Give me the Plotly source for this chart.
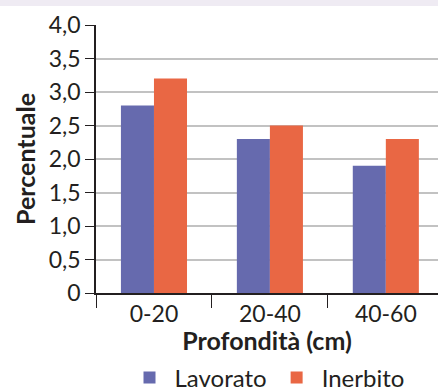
import plotly.graph_objects as go

categories = ["0-20", "20-40", "40-60"]
lavorato = [2.8, 2.3, 1.9]
inerbito = [3.2, 2.5, 2.3]
y_ticks = [0, 0.5, 1.0, 1.5, 2.0, 2.5, 3.0, 3.5, 4.0]
y_ticktext = ["0", "0,5", "1,0", "1,5", "2,0", "2,5", "3,0", "3,5", "4,0"]

FONT = "Lato, Noto Sans, sans-serif"

fig = go.Figure()
fig.add_bar(x=categories, y=lavorato, name="Lavorato", marker_color="#666aae", marker_line_width=0)
fig.add_bar(x=categories, y=inerbito, name="Inerbito", marker_color="#e96744", marker_line_width=0)

fig.update_layout(
    width=438, height=391,
    margin=dict(l=96, r=0, t=25, b=98, autoexpand=False),
    paper_bgcolor="white", plot_bgcolor="white",
    barmode="group", bargap=0.43, bargroupgap=0,
    font=dict(family=FONT, size=22, color="#231f20"),
    showlegend=True,
    legend=dict(orientation="h", x=0.5, xanchor="center", yref="container", y=1 - 378/391,
                yanchor="middle", font=dict(size=24), itemwidth=40, traceorder="normal"),
    shapes=[dict(type="rect", xref="paper", yref="paper", x0=-1, x1=2, y0=1.0 + 19/268, y1=1.2,
                 fillcolor="#efebf3", line_width=0, layer="below")],
)
fig.update_xaxes(
    type="category", range=[-0.5, 2.45], automargin=False,
    showline=True, linecolor="#231f20", linewidth=1.5,
    ticks="outside", tickson="boundaries", ticklen=13, tickcolor="#231f20", tickwidth=1,
    showgrid=False,
    tickfont=dict(size=23),
    title=dict(text="<b>Profondità (cm)</b>", font=dict(size=25), standoff=1),
)
fig.update_yaxes(
    range=[0, 4.0], tickvals=y_ticks, ticktext=y_ticktext, automargin=False,
    showline=True, linecolor="#231f20", linewidth=1.5,
    ticks="outside", ticklen=9, tickcolor="#231f20", tickwidth=1,
    showgrid=True, gridcolor="#c2c2c2", gridwidth=1.5,
    zeroline=False,
    tickfont=dict(size=23),
    title=dict(text="<b>Percentuale</b>", font=dict(size=25), standoff=6),
)

fig.write_html(
    "out.html",
    config={"displayModeBar": False},
    post_script="document.body.style.margin='0';document.body.style.overflow='hidden';",
)
